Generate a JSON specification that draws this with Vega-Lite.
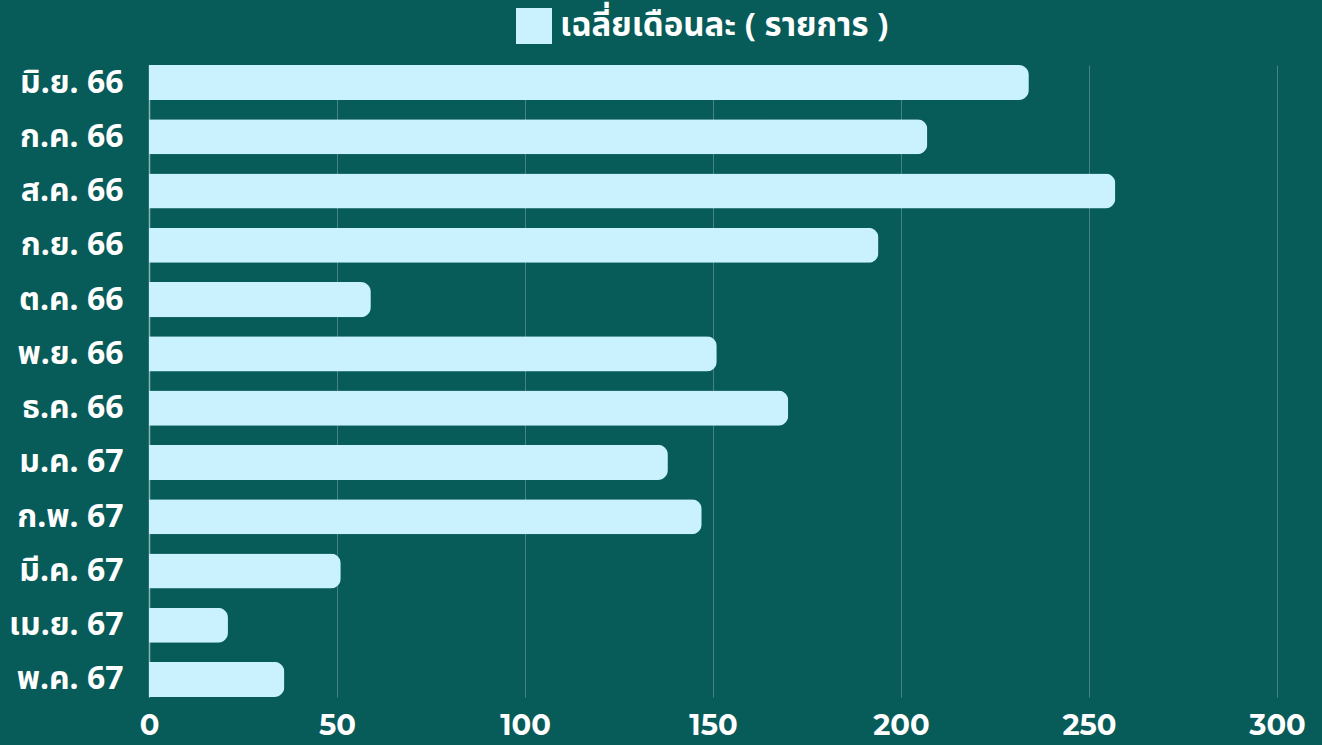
{
  "$schema": "https://vega.github.io/schema/vega-lite/v6.json",
  "autosize": {"type": "none"},
  "width": 1128,
  "height": 632,
  "padding": {"left": 149, "top": 65, "right": 45, "bottom": 48},
  "background": "#075B58",
  "data": {"values": [
    {"month": "มิ.ย. 66", "value": 234, "series": "เฉลี่ยเดือนละ ( รายการ )"},
    {"month": "ก.ค. 66", "value": 207, "series": "เฉลี่ยเดือนละ ( รายการ )"},
    {"month": "ส.ค. 66", "value": 257, "series": "เฉลี่ยเดือนละ ( รายการ )"},
    {"month": "ก.ย. 66", "value": 194, "series": "เฉลี่ยเดือนละ ( รายการ )"},
    {"month": "ต.ค. 66", "value": 59, "series": "เฉลี่ยเดือนละ ( รายการ )"},
    {"month": "พ.ย. 66", "value": 151, "series": "เฉลี่ยเดือนละ ( รายการ )"},
    {"month": "ธ.ค. 66", "value": 170, "series": "เฉลี่ยเดือนละ ( รายการ )"},
    {"month": "ม.ค. 67", "value": 138, "series": "เฉลี่ยเดือนละ ( รายการ )"},
    {"month": "ก.พ. 67", "value": 147, "series": "เฉลี่ยเดือนละ ( รายการ )"},
    {"month": "มี.ค. 67", "value": 51, "series": "เฉลี่ยเดือนละ ( รายการ )"},
    {"month": "เม.ย. 67", "value": 21, "series": "เฉลี่ยเดือนละ ( รายการ )"},
    {"month": "พ.ค. 67", "value": 36, "series": "เฉลี่ยเดือนละ ( รายการ )"}
  ]},
  "mark": {"type": "bar", "cornerRadiusEnd": 10},
  "encoding": {
    "y": {
      "field": "month", "type": "nominal", "sort": null, "title": null,
      "scale": {"paddingInner": 0.354, "paddingOuter": 0},
      "axis": {"ticks": false, "labelPadding": 26, "labelFontSize": 32, "labelFontWeight": "bold", "labelColor": "#FFFFFF", "labelDy": 3, "domainColor": "#8FB5B2", "domainWidth": 1.5, "labelFont": "Noto Sans, Noto Sans Thai, Loma, sans-serif", "labelLimit": 0}
    },
    "x": {
      "field": "value", "type": "quantitative", "title": null,
      "scale": {"domain": [0, 300]},
      "axis": {"values": [0, 50, 100, 150, 200, 250, 300], "ticks": false, "domain": false, "labelFlush": false, "labelPadding": 14, "labelFontSize": 29, "labelFontWeight": "bold", "labelColor": "#FFFFFF", "gridColor": "#FFFFFF", "gridOpacity": 0.25, "grid": true, "labelFont": "Montserrat, Noto Sans, sans-serif"}
    },
    "color": {
      "field": "series", "type": "nominal", "title": null,
      "scale": {"range": ["#C9F1FE"]},
      "legend": {"orient": "none", "legendX": 367, "legendY": -57, "symbolType": "square", "symbolSize": 1296, "symbolOpacity": 1, "labelFontSize": 33, "labelFontWeight": "bold", "labelColor": "#FFFFFF", "labelFont": "Noto Sans, Noto Sans Thai, Loma, sans-serif", "labelOffset": 8, "labelLimit": 0, "symbolStrokeWidth": 0}
    }
  },
  "config": {"view": {"stroke": null}}
}
